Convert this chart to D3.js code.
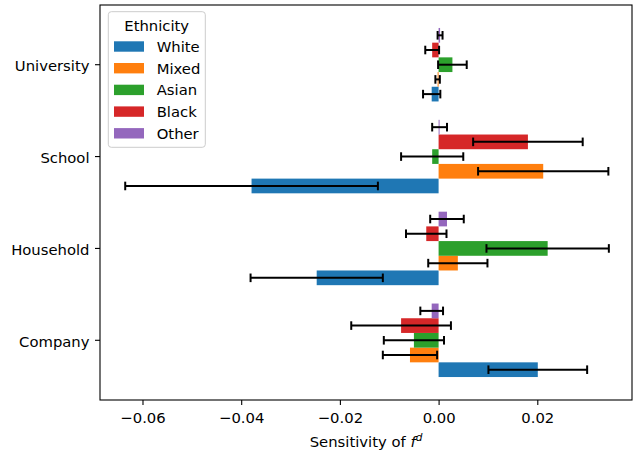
<!DOCTYPE html>
<html lang="en">
<head>
<meta charset="utf-8">
<title>Sensitivity by ethnicity</title>
<script src="https://d3js.org/d3.v7.min.js"></script>
<style>
  body { margin: 0; background: #fff; }
  text { font-family: "DejaVu Sans", sans-serif; fill: #000; }
</style>
</head>
<body>
<script>
// data
var categories = ["Company", "Household", "School", "University"];
var series = ["White", "Mixed", "Asian", "Black", "Other"];
var colors = ["#1f77b4", "#ff7f0e", "#2ca02c", "#d62728", "#9467bd"];

// mean sensitivity, one array per ethnicity, in category order
var white = [0.0201, -0.0247, -0.0379, -0.0014];
var mixed = [-0.0058, 0.0039, 0.0212, -0.0002];
var asian = [-0.0050, 0.0221, -0.0013, 0.0028];
var black = [-0.0076, -0.0025, 0.0181, -0.0013];
var other = [-0.0014, 0.0017, 0.0002, 0.0003];

// half width of the error bars
var whiteErr = [0.0100, 0.0134, 0.0256, 0.00175];
var mixedErr = [0.0055, 0.0060, 0.0132, 0.00045];
var asianErr = [0.0061, 0.0124, 0.0063, 0.0029];
var blackErr = [0.0101, 0.0041, 0.0111, 0.0014];
var otherErr = [0.0023, 0.0034, 0.0015, 0.0005];

var xTicks = [-0.06, -0.04, -0.02, 0.00, 0.02];

var values = [white, mixed, asian, black, other];
var errs = [whiteErr, mixedErr, asianErr, blackErr, otherErr];

var rows = [];
series.forEach(function(s, i) {
  categories.forEach(function(c, j) {
    rows.push({cat: c, eth: s, v: values[i][j], e: errs[i][j], color: colors[i]});
  });
});

var W = 634, H = 453;
var plot = {left: 100, right: 632, top: 5, bottom: 400};
var fs = "14.8px";

var svg = d3.select("body").append("svg")
  .attr("width", W).attr("height", H);

var x = d3.scaleLinear()
  .domain([-0.06861, 0.03919])
  .range([plot.left, plot.right]);

var y0 = d3.scaleBand()
  .domain(categories)
  .range([plot.bottom, plot.top])
  .paddingInner(0.2)
  .paddingOuter(0.25);

var y1 = d3.scaleBand()
  .domain(series)
  .range([y0.bandwidth(), 0]);

function yMid(d) { return y0(d.cat) + y1(d.eth) + y1.bandwidth() / 2; }

// bars
svg.append("g").selectAll("rect")
  .data(rows)
  .enter().append("rect")
  .attr("x", function(d) { return Math.min(x(0), x(d.v)); })
  .attr("width", function(d) { return Math.max(Math.abs(x(d.v) - x(0)), 0.8); })
  .attr("y", function(d) { return y0(d.cat) + y1(d.eth); })
  .attr("height", y1.bandwidth())
  .attr("fill", function(d) { return d.color; });

// error bars
var eb = svg.append("g").selectAll("g")
  .data(rows)
  .enter().append("g")
  .attr("stroke", "#000")
  .attr("stroke-width", 2);

eb.append("line")
  .attr("x1", function(d) { return x(d.v - d.e); })
  .attr("x2", function(d) { return x(d.v + d.e); })
  .attr("y1", yMid)
  .attr("y2", yMid);

[-1, 1].forEach(function(sgn) {
  eb.append("line")
    .attr("x1", function(d) { return x(d.v + sgn * d.e); })
    .attr("x2", function(d) { return x(d.v + sgn * d.e); })
    .attr("y1", function(d) { return yMid(d) - 4.3; })
    .attr("y2", function(d) { return yMid(d) + 4.3; });
});

// axes
var xAxis = svg.append("g")
  .attr("transform", "translate(0," + plot.bottom + ")")
  .call(d3.axisBottom(x).tickValues(xTicks).tickFormat(d3.format(".2f"))
    .tickSize(5).tickPadding(7).tickSizeOuter(0));

var yAxis = svg.append("g")
  .attr("transform", "translate(" + plot.left + ",0)")
  .call(d3.axisLeft(y0).tickSize(5).tickPadding(5.5).tickSizeOuter(0));

[xAxis, yAxis].forEach(function(a) {
  a.select(".domain").remove();
  a.selectAll(".tick line").attr("stroke", "#000").attr("stroke-width", 1.1);
  a.selectAll(".tick text").style("font-size", fs)
    .style("font-family", "'DejaVu Sans', sans-serif");
});
yAxis.selectAll(".tick text").attr("dy", "0.45em");

// frame
svg.append("rect")
  .attr("x", plot.left).attr("y", plot.top)
  .attr("width", plot.right - plot.left).attr("height", plot.bottom - plot.top)
  .attr("fill", "none").attr("stroke", "#000").attr("stroke-width", 1.1);

// x label
var xl = svg.append("text")
  .attr("x", (plot.left + plot.right) / 2).attr("y", 447)
  .attr("text-anchor", "middle")
  .style("font-size", fs);
xl.append("tspan").text("Sensitivity of ");
xl.append("tspan").attr("font-style", "italic").text("f");
xl.append("tspan").attr("font-style", "italic").attr("dy", -6)
  .style("font-size", "10.5px").text("d");

// legend
var lg = svg.append("g");
lg.append("rect")
  .attr("x", 108.3).attr("y", 11.7)
  .attr("width", 97).attr("height", 135.6)
  .attr("rx", 3)
  .attr("fill", "#fff").attr("fill-opacity", 0.8)
  .attr("stroke", "#cccccc").attr("stroke-width", 1);
lg.append("text")
  .attr("x", 156.7).attr("y", 31)
  .attr("text-anchor", "middle")
  .style("font-size", fs)
  .text("Ethnicity");

var item = lg.selectAll(".item")
  .data(series)
  .enter().append("g")
  .attr("class", "item")
  .attr("transform", function(d, i) { return "translate(0," + (46.5 + i * 21.7) + ")"; });
item.append("rect")
  .attr("x", 114).attr("y", -5.2)
  .attr("width", 30).attr("height", 10.4)
  .attr("fill", function(d, i) { return colors[i]; });
item.append("text")
  .attr("x", 156.7).attr("y", 5.3)
  .style("font-size", fs)
  .text(function(d) { return d; });
</script>
</body>
</html>
